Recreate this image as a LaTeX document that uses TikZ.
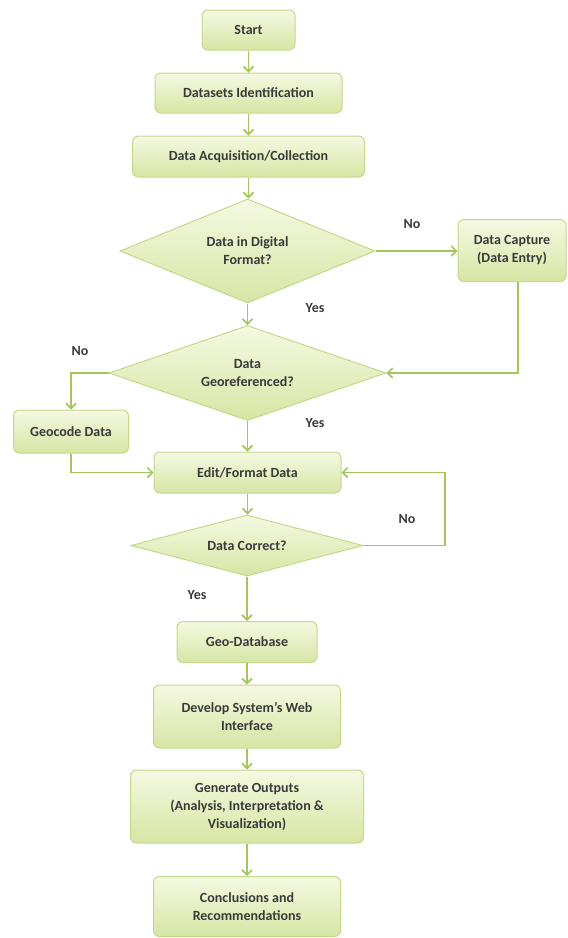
\documentclass[tikz,border=0pt]{standalone}
\usepackage{fontspec}
\setmainfont{Carlito}
\usetikzlibrary{shapes.geometric,arrows.meta}
\definecolor{boxtop}{HTML}{F5F9E2}
\definecolor{boxbot}{HTML}{D6E6A4}
\definecolor{boxline}{HTML}{C3D98C}
\definecolor{arrowc}{HTML}{A6C55C}
\definecolor{txt}{HTML}{3A3A3A}
\tikzset{
  base/.style={draw=boxline, line width=1pt, top color=boxtop, bottom color=boxbot,
    font=\bfseries\fontsize{14}{18}\selectfont, text=txt, align=center, inner sep=2pt},
  procbox/.style={base, rectangle, rounded corners=6pt},
  decbox/.style={base, diamond, inner sep=0pt},
  lbl/.style={font=\bfseries\fontsize{14}{16}\selectfont, text=txt},
  conn/.style={draw=arrowc, line width=1.8pt, -{Straight Barb[length=5pt,width=10pt,line width=1.6pt]}}
}
\begin{document}
\begin{tikzpicture}[x=1pt,y=-1pt]
\useasboundingbox (0,0) rectangle (568,938);
\node[procbox, minimum width=93pt, minimum height=40pt] (start) at (248.5,30) {Start};
\node[procbox, minimum width=187pt, minimum height=40pt] (ident) at (248.5,93) {Datasets Identification};
\node[procbox, minimum width=232pt, minimum height=41pt] (acq) at (248.5,156.5) {Data Acquisition/Collection};
\node[decbox, aspect=2.45, minimum width=255pt, minimum height=104pt] (d1) at (247.5,251) {Data in Digital\\Format?};
\node[procbox, minimum width=108pt, minimum height=62pt] (capture) at (512,250.5) {Data Capture\\(Data Entry)};
\node[decbox, aspect=2.9, minimum width=277pt, minimum height=95pt] (d2) at (247.5,373) {Data\\Georeferenced?};
\node[procbox, minimum width=115pt, minimum height=43pt] (geocode) at (71,431.5) {Geocode Data};
\node[procbox, minimum width=187pt, minimum height=41pt] (edit) at (247.5,472.5) {Edit/Format Data};
\node[decbox, aspect=3.8, minimum width=232pt, minimum height=61pt] (d3) at (247,545.5) {Data Correct?};
\node[procbox, minimum width=140pt, minimum height=41pt] (geodb) at (247,642) {Geo-Database};
\node[procbox, minimum width=187pt, minimum height=63pt] (web) at (247,716.5) {Develop System's Web\\Interface};
\node[procbox, minimum width=233pt, minimum height=73pt] (gen) at (247,806.5) {Generate Outputs\\(Analysis, Interpretation \&\\Visualization)};
\node[procbox, minimum width=187pt, minimum height=60pt] (concl) at (247,906.5) {Conclusions and\\Recommendations};

\node[lbl] (no1) at (412,224) {No};
\node[lbl] (yes1) at (315,308) {Yes};
\node[lbl] (no2) at (80,351) {No};
\node[lbl] (yes2) at (315,423) {Yes};
\node[lbl] (no3) at (407,519) {No};
\node[lbl] (yes3) at (197,595) {Yes};

\coordinate (loop) at (445,545.5);

\draw[conn] (start) -- (ident);
\draw[conn] (ident) -- (acq);
\draw[conn] (acq.south) -- (acq.south |- d1.north);
\draw[conn] (d1.east) -- (capture.west |- d1.east);
\draw[conn] (d1.south) -- (d2.north);
\draw[conn] ([xshift=6pt]capture.south) |- (d2.east);
\draw[conn] (d2.west) -| (geocode.north);
\draw[conn] (d2.south) -- (edit.north);
\draw[conn] (geocode.south) |- (edit.west);
\draw[conn] (edit.south) -- (edit.south |- d3.north);
\draw[conn] (d3.east) -- (loop) |- (edit.east);
\draw[conn] (d3.south) -- (geodb.north);
\draw[conn] (geodb) -- (web);
\draw[conn] (web) -- (gen);
\draw[conn] (gen) -- (concl);
\end{tikzpicture}
\end{document}
